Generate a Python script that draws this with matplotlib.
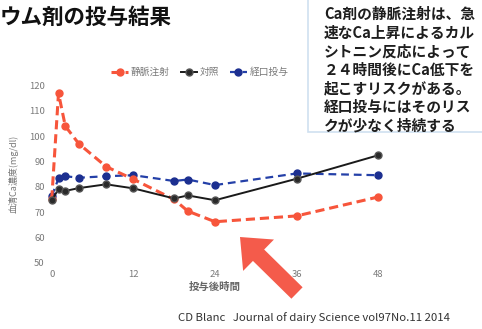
import matplotlib
matplotlib.use("Agg")
import matplotlib.pyplot as plt
from matplotlib.patches import FancyArrow, Rectangle

plt.rcParams['font.family'] = ['Noto Sans CJK JP', 'DejaVu Sans']

# Sampling times (hours after administration)
hours = [0, 1, 2, 4, 8, 12, 18, 20, 24, 36, 48]

# Serum Ca concentration (mg/dl)
iv_values = [75, 117, 104, 97, 88, 83, 75, 70.4, 66.2, 68.5, 76]
control_values = [74.7, 79.1, 78.4, 79.5, 81, 79.4, 75.4, 76.6, 74.7, 83.2, 92.5]
oral_values = [76.3, 83.3, 84.2, 83.6, 84.2, 84.6, 82.3, 82.9, 80.7, 85.3, 84.6]

series_labels = ["静脈注射", "対照", "経口投与"]
x_ticks = [0, 12, 24, 36, 48]
y_ticks = [50, 60, 70, 80, 90, 100, 110, 120]

title_text = "ウム剤の投与結果"
note_lines = [
    "Ca剤の静脈注射は、急",
    "速なCa上昇によるカル",
    "シトニン反応によって",
    "２４時間後にCa低下を",
    "起こすリスクがある。",
    "経口投与にはそのリス",
    "クが少なく持続する",
]
citation = "CD Blanc   Journal of dairy Science vol97No.11 2014"

W, H = 482, 329
fig = plt.figure(figsize=(W / 100, H / 100), dpi=100)
fig.patch.set_facecolor("white")

ax_w = 378.3 - 51.7
ax_h = 262.7 - 85.7
ax = fig.add_axes([51.7 / W, 1 - 262.7 / H, ax_w / W, ax_h / H])
ax.set_xlim(0, 48)
ax.set_ylim(50, 120)
for s in ax.spines.values():
    s.set_visible(False)
ax.tick_params(length=0, labelsize=6.8, labelcolor="#7a7a7a", pad=5)
ax.set_xticks(x_ticks)
ax.set_yticks(y_ticks)

red = "#f7553b"
ax.plot(hours, iv_values, color=red, lw=2.2, ls=(0, (3, 1.6)), marker="o",
        ms=5, mfc=red, mec=red, label=series_labels[0], clip_on=False, zorder=3)
ax.plot(hours, control_values, color="#1a1a1a", lw=1.4, ls="-", marker="o",
        ms=5, mfc="#2a2a2a", mec="#555555", label=series_labels[1], clip_on=False, zorder=4)
ax.plot(hours, oral_values, color="#2440a8", lw=1.6, ls=(0, (3.5, 2.2)), marker="o",
        ms=5, mfc="#1c2f90", mec="#1c2f90", label=series_labels[2], clip_on=False, zorder=2)

ax.set_xlabel("投与後時間", fontsize=7.5, color="#666666", fontweight="bold", labelpad=2)
ax.set_ylabel("血清Ca濃度(mg/dl)", fontsize=6.5, color="#777777", labelpad=7)

leg = ax.legend(loc="center", bbox_to_anchor=((200 - 51.7) / ax_w, 1 + (85.7 - 72) / ax_h),
                ncol=3, frameon=False, fontsize=7, handlelength=1.7, handletextpad=0.3,
                columnspacing=1.1, borderaxespad=0, borderpad=0)
for t in leg.get_texts():
    t.set_color("#7a7a7a")

# Overlay in pixel coordinates for the slide decorations
ov = fig.add_axes([0, 0, 1, 1], zorder=10)
ov.set_xlim(0, W)
ov.set_ylim(H, 0)
ov.axis("off")
ov.patch.set_alpha(0)

ov.text(0, 17, title_text, fontsize=15.5, fontweight="bold", color="#111111",
        ha="left", va="center")

ov.add_patch(Rectangle((308, -2), 180, 134, facecolor="white", edgecolor="#cfe0f0", lw=1.2))
for i, line in enumerate(note_lines):
    ov.text(324, 14 + i * 18.6, line, fontsize=10.6, fontweight="bold", color="#1e1e1e",
            ha="left", va="center")

ov.add_patch(FancyArrow(297, 293, -57, -56, width=16, head_width=44, head_length=26,
                        length_includes_head=True, facecolor="#f45b4b", edgecolor="none"))

ov.text(178, 318, citation, fontsize=8.2, color="#333333", ha="left", va="center")

fig.savefig("out.png", dpi=100)
